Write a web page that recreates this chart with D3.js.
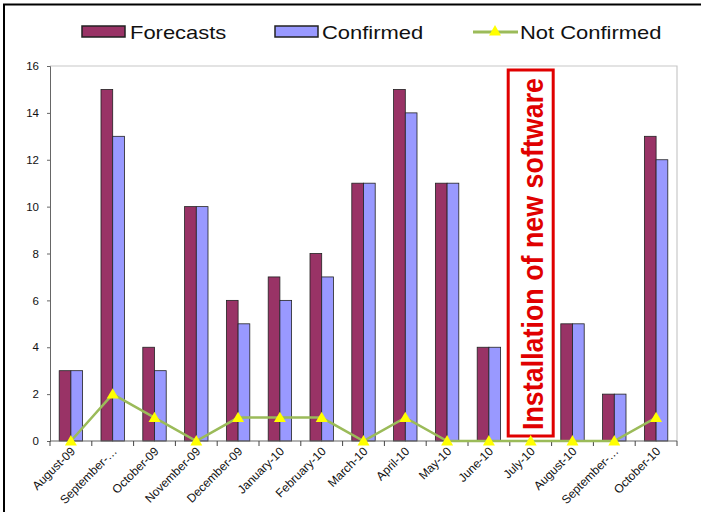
<!DOCTYPE html>
<html>
<head>
<meta charset="utf-8">
<script src="https://cdn.jsdelivr.net/npm/d3@7"></script>
<style>
  html, body { margin: 0; padding: 0; background: #fff; }
  svg { display: block; font-family: "Liberation Sans", Arial, sans-serif; }
</style>
</head>
<body>
<svg id="chart" width="701" height="512"></svg>
<script>
const months = ["August-09", "September-…", "October-09", "November-09", "December-09",
  "January-10", "February-10", "March-10", "April-10", "May-10", "June-10", "July-10",
  "August-10", "September-…", "October-10"];
const forecasts = [3, 15, 4, 10, 6, 7, 8, 11, 15, 11, 4, 0, 5, 2, 13];
const confirmed = [3, 13, 3, 10, 5, 6, 7, 11, 14, 11, 4, 0, 5, 2, 12];
const notConfirmed = [0, 2, 1, 0, 1, 1, 1, 0, 1, 0, 0, 0, 0, 0, 1];
const yTicks = [0, 2, 4, 6, 8, 10, 12, 14, 16];
const seriesNames = ["Forecasts", "Confirmed", "Not Confirmed"];
const annotation = "Installation of new software";
const annotationMonth = "July-10";

(function () {
const colF = "#993366", colC = "#9999FF", colLine = "#9BBB59", colTri = "#FFFF00", colRed = "#E00000";

const svg = d3.select("#chart");
const pL = 50, pR = 677, pT = 66, pB = 441;

// outer frame (top & left visible)
svg.append("rect").attr("x", 4).attr("y", 4.5).attr("width", 800).attr("height", 600)
  .attr("fill", "none").attr("stroke", "#000").attr("stroke-width", 2);

const idx = d3.range(months.length);
const x = d3.scaleBand().domain(idx).range([pL, pR]).padding(0);
const y = d3.scaleLinear().domain([0, 16]).range([pB, pT]);
const bw = x.bandwidth() * 0.28;
const cx = i => x(i) + x.bandwidth() / 2;

// plot frame top/right
svg.append("path").attr("d", `M${pL},${pT}H${pR}V${pB}`)
  .attr("fill", "none").attr("stroke", "#c8c8c8").attr("stroke-width", 1.2);

// bars
const g = svg.append("g");
g.selectAll("rect.f").data(forecasts).join("rect").attr("class", "f")
  .attr("x", (d, i) => cx(i) - bw)
  .attr("y", d => y(d)).attr("width", bw).attr("height", d => y(0) - y(d))
  .attr("fill", colF).attr("stroke", "#222").attr("stroke-width", 0.8)
  .style("display", d => d > 0 ? null : "none");
g.selectAll("rect.c").data(confirmed).join("rect").attr("class", "c")
  .attr("x", (d, i) => cx(i))
  .attr("y", d => y(d)).attr("width", bw).attr("height", d => y(0) - y(d))
  .attr("fill", colC).attr("stroke", "#222").attr("stroke-width", 0.8)
  .style("display", d => d > 0 ? null : "none");

// annotation box
const ax = cx(months.indexOf(annotationMonth));
svg.append("rect").attr("x", ax - 22.5).attr("y", 70).attr("width", 45).attr("height", 366)
  .attr("fill", "#fff").attr("stroke", colRed).attr("stroke-width", 3);
svg.append("text").attr("transform", `translate(${ax + 11.8},${254}) scale(1.12,1) rotate(-90)`)
  .attr("text-anchor", "middle").attr("font-size", 27).attr("font-weight", "bold")
  .attr("fill", colRed).attr("textLength", 352).attr("lengthAdjust", "spacingAndGlyphs")
  .text(annotation);

// y axis
const yAxis = d3.axisLeft(y).tickValues(yTicks).tickSize(3).tickPadding(8).tickFormat(d3.format("d"));
const yg = svg.append("g").attr("transform", `translate(${pL},0)`).call(yAxis);
yg.select(".domain").attr("stroke", "#666");
yg.selectAll(".tick line").attr("stroke", "#666");
yg.selectAll("text").attr("font-size", 11.5).attr("fill", "#111")
  .attr("font-family", "Liberation Sans, Arial, sans-serif");

// x axis
const xg = svg.append("g").attr("transform", `translate(0,${pB})`);
xg.append("line").attr("x1", pL).attr("x2", pR).attr("stroke", "#666").attr("stroke-width", 1.2);
const bounds = idx.map(i => x(i)).concat([pR]);
xg.selectAll("line.t").data(bounds).join("line").attr("class", "t")
  .attr("x1", d => d).attr("x2", d => d).attr("y1", 0).attr("y2", 5).attr("stroke", "#444");
xg.selectAll("text").data(months).join("text")
  .attr("transform", (m, i) => `translate(${cx(i) + 5},${11}) rotate(-45)`)
  .attr("text-anchor", "end").attr("font-size", 12).attr("fill", "#111").text(m => m);

// line
const line = d3.line().x((d, i) => cx(i)).y(d => y(d));
svg.append("path").datum(notConfirmed).attr("d", line).attr("fill", "none")
  .attr("stroke", colLine).attr("stroke-width", 2.5);
const tri = d3.symbol().type(d3.symbolTriangle).size(62);
svg.selectAll("path.tri").data(notConfirmed).join("path").attr("class", "tri")
  .attr("transform", (d, i) => `translate(${cx(i)},${y(d) + 1})`)
  .attr("d", tri).attr("fill", colTri);

// legend
const lg = svg.append("g");
lg.append("rect").attr("x", 82).attr("y", 26).attr("width", 43).attr("height", 11)
  .attr("fill", colF).attr("stroke", "#222").attr("stroke-width", 1.5);
lg.append("rect").attr("x", 275).attr("y", 26).attr("width", 43).attr("height", 11)
  .attr("fill", colC).attr("stroke", "#222").attr("stroke-width", 1.5);
lg.append("line").attr("x1", 473).attr("x2", 518).attr("y1", 32).attr("y2", 32)
  .attr("stroke", colLine).attr("stroke-width", 3);
lg.append("path").attr("transform", "translate(495,32)").attr("d", tri).attr("fill", colTri);
const lx = [130, 322, 520];
seriesNames.forEach((n, i) => {
  lg.append("text").attr("transform", `translate(${lx[i]},38.5) scale(1.22,1)`)
    .attr("font-size", 18).attr("fill", "#111").text(n);
});
})();
</script>
</body>
</html>
